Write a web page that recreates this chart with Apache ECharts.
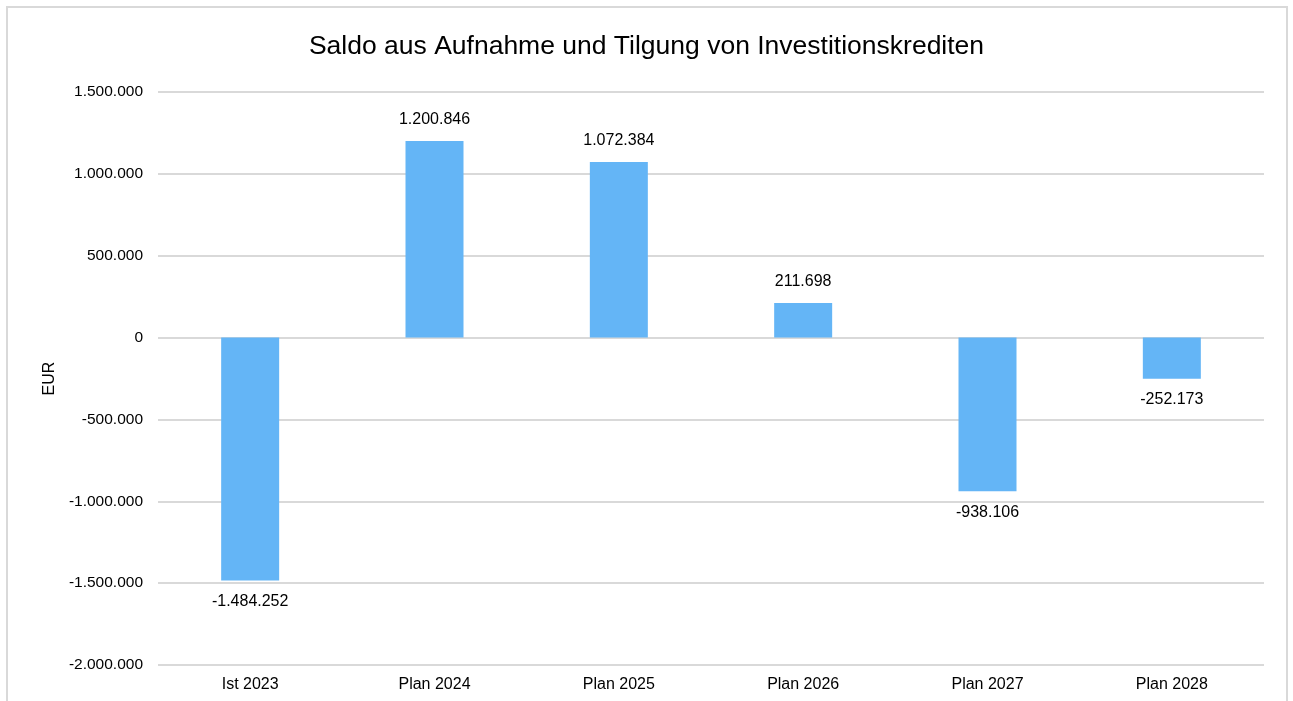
<!DOCTYPE html>
<html>
<head>
    <meta charset="utf-8">
    <title>Saldo aus Aufnahme und Tilgung von Investitionskrediten</title>
    <style>
    html, body { margin: 0; padding: 0; background: #fff; }
    </style>
    <script type="text/javascript" src="https://cdn.jsdelivr.net/npm/echarts@6/dist/echarts.min.js"></script>
</head>
<body>
    <div id="main" style="width:1293px;height:701px"></div>
    <script>
    // Daten
    var categories = ['Ist 2023', 'Plan 2024', 'Plan 2025', 'Plan 2026', 'Plan 2027', 'Plan 2028'];
    var saldo = [-1484252, 1200846, 1072384, 211698, -938106, -252173];

    // Zahl im deutschen Format (1.234.567)
    function fmt(v) {
        var s = Math.abs(v).toString().replace(/\B(?=(\d{3})+(?!\d))/g, '.');
        return (v < 0 ? '-' : '') + s;
    }

    var font = 'Liberation Sans, Arial, sans-serif';

    var option = {
        animation: false,
        title: {
            text: 'Saldo aus Aufnahme und Tilgung von Investitionskrediten',
            left: 'center',
            top: 28,
            textStyle: { fontFamily: font, fontSize: 26.5, fontWeight: 'normal', color: '#000' }
        },
        graphic: [{
            type: 'rect',
            shape: { x: 7, y: 7, width: 1280, height: 720 },
            style: { fill: 'none', stroke: '#d9d9d9', lineWidth: 2 },
            silent: true
        }],
        grid: { left: 158, right: 29, top: 92, bottom: 36 },
        xAxis: {
            type: 'category',
            data: categories,
            axisLine: { show: false, onZero: false },
            axisTick: { show: false },
            axisLabel: { color: '#000', fontFamily: font, fontSize: 16, margin: 12 }
        },
        yAxis: {
            type: 'value',
            min: -2000000,
            max: 1500000,
            interval: 500000,
            name: 'EUR',
            nameLocation: 'middle',
            nameRotate: 90,
            nameGap: 88,
            nameTextStyle: { color: '#000', fontFamily: font, fontSize: 16 },
            axisLine: { show: false },
            axisTick: { show: false },
            axisLabel: {
                color: '#000', fontFamily: font, fontSize: 15.5, margin: 15,
                formatter: function (v) { return fmt(v); }
            },
            splitLine: { lineStyle: { color: '#d9d9d9', width: 2 } }
        },
        series: [{
            type: 'bar',
            data: saldo.map(function (v) {
                return { value: v, label: { position: v < 0 ? 'bottom' : 'top' } };
            }),
            barWidth: 58,
            itemStyle: { color: '#64b5f6' },
            label: {
                show: true,
                distance: 13,
                color: '#000',
                fontFamily: font,
                fontSize: 16,
                formatter: function (p) { return fmt(p.value); }
            }
        }]
    };

    var myChart = echarts.init(document.getElementById('main'));
    myChart.setOption(option);
    </script>
</body>
</html>
